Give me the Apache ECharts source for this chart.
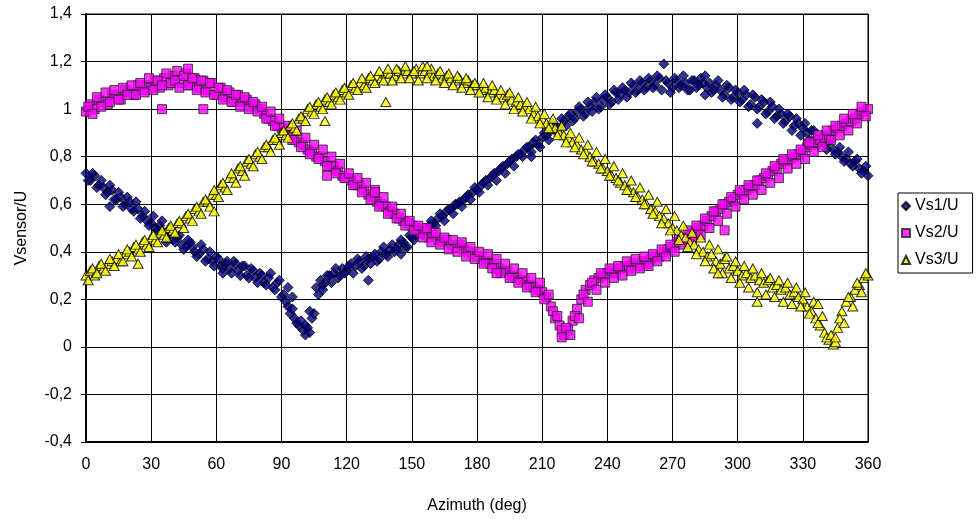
<!DOCTYPE html>
<html><head><meta charset="utf-8">
<script src="https://cdn.jsdelivr.net/npm/echarts@6/dist/echarts.min.js"></script>
<style>html,body{margin:0;padding:0;background:#fff}#c{width:976px;height:519px}</style>
</head><body><div id="c"></div>
<script>
// pass A: even azimuths
var azimuth = [0,2,4,6,8,10,12,14,16,18,20,22,24,26,28,30,32,34,36,38,40,42,44,46,48,50,52,54,56,58,60,62,64,66,68,70,72,74,76,78,80,82,84,86,88,90,92,94,96,98,100,102,104,106,108,110,112,114,116,118,120,122,124,126,128,130,132,134,136,138,140,142,144,146,148,150,152,154,156,158,160,162,164,166,168,170,172,174,176,178,180,182,184,186,188,190,192,194,196,198,200,202,204,206,208,210,212,214,216,218,220,222,224,226,228,230,232,234,236,238,240,242,244,246,248,250,252,254,256,258,260,262,264,266,268,270,272,274,276,278,280,282,284,286,288,290,292,294,296,298,300,302,304,306,308,310,312,314,316,318,320,322,324,326,328,330,332,334,336,338,340,342,344,346,348,350,352,354,356,358,360];
// pass B: odd azimuths
var azimuthB = [1,3,5,7,9,11,13,15,17,19,21,23,25,27,29,31,33,35,37,39,41,43,45,47,49,51,53,55,57,59,61,63,65,67,69,71,73,75,77,79,81,83,85,87,89,91,93,95,97,99,101,103,105,107,109,111,113,115,117,119,121,123,125,127,129,131,133,135,137,139,141,143,145,147,149,151,153,155,157,159,161,163,165,167,169,171,173,175,177,179,181,183,185,187,189,191,193,195,197,199,201,203,205,207,209,211,213,215,217,219,221,223,225,227,229,231,233,235,237,239,241,243,245,247,249,251,253,255,257,259,261,263,265,267,269,271,273,275,277,279,281,283,285,287,289,291,293,295,297,299,301,303,305,307,309,311,313,315,317,319,321,323,325,327,329,331,333,335,337,339,341,343,345,347,349,351,353,355,357,359];

var vs1 = [0.73,0.70,0.72,0.68,0.67,0.65,0.66,0.62,0.63,0.60,
 0.61,0.57,0.58,0.55,0.53,0.52,0.50,0.51,0.48,0.47,
 0.45,0.46,0.43,0.42,0.44,0.40,0.39,0.41,0.37,0.36,
 0.38,0.34,0.35,0.33,0.36,0.32,0.34,0.30,0.33,0.29,
 0.31,0.27,0.29,0.25,0.27,0.21,0.19,0.14,0.12,0.09,
 0.07,0.08,0.12,0.25,0.28,0.27,0.30,0.31,0.29,0.33,
 0.32,0.35,0.34,0.36,0.34,0.37,0.38,0.36,0.40,0.39,
 0.41,0.40,0.43,0.44,0.42,0.46,0.47,0.49,0.48,0.51,
 0.52,0.54,0.55,0.57,0.58,0.60,0.61,0.62,0.64,0.65,
 0.66,0.68,0.70,0.71,0.73,0.74,0.76,0.77,0.79,0.80,
 0.81,0.83,0.84,0.86,0.85,0.88,0.89,0.91,0.93,0.92,
 0.95,0.97,0.95,0.99,1.00,0.98,1.01,1.03,1.00,1.04,
 1.05,1.03,1.07,1.06,1.08,1.07,1.10,1.08,1.11,1.09,
 1.12,1.10,1.13,1.19,1.11,1.09,1.12,1.10,1.11,1.08,
 1.12,1.10,1.11,1.09,1.07,1.10,1.08,1.06,1.09,1.05,
 1.07,1.04,1.06,1.02,1.05,1.01,1.03,0.99,1.01,0.97,
 0.98,0.95,0.97,0.93,0.94,0.92,0.90,0.91,0.88,0.87,
 0.85,0.86,0.83,0.82,0.80,0.79,0.77,0.78,0.75,0.74,
 0.72];
var vs1B = [0.70,0.73,0.67,0.70,0.64,0.68,0.62,0.65,0.59,0.63,
 0.58,0.61,0.54,0.57,0.51,0.55,0.49,0.53,0.46,0.50,
 0.44,0.47,0.41,0.45,0.42,0.38,0.43,0.36,0.40,0.34,
 0.37,0.33,0.36,0.31,0.35,0.30,0.34,0.29,0.32,0.27,
 0.30,0.26,0.31,0.24,0.28,0.22,0.17,0.16,0.10,0.11,
 0.09,0.06,0.14,0.22,0.26,0.30,0.27,0.33,0.30,0.31,
 0.34,0.31,0.37,0.33,0.38,0.35,0.39,0.37,0.42,0.38,
 0.43,0.41,0.45,0.42,0.47,0.45,0.49,0.47,0.50,0.53,
 0.51,0.56,0.53,0.58,0.56,0.60,0.59,0.63,0.62,0.67,
 0.65,0.69,0.68,0.72,0.70,0.75,0.73,0.78,0.76,0.81,
 0.80,0.84,0.82,0.87,0.84,0.90,0.87,0.94,0.90,0.96,
 0.93,0.98,0.96,1.01,0.97,1.03,0.99,1.05,1.01,1.06,
 1.02,1.08,1.04,1.09,1.05,1.11,1.07,1.12,1.08,1.13,
 1.09,1.14,1.08,1.12,1.07,1.13,1.09,1.14,1.08,1.12,
 1.09,1.13,1.06,1.11,1.08,1.12,1.05,1.10,1.04,1.08,
 1.03,1.08,1.01,1.06,1.00,1.04,0.98,1.03,0.96,1.00,
 0.94,0.98,0.91,0.96,0.89,0.94,0.87,0.91,0.85,0.89,
 0.83,0.87,0.81,0.84,0.78,0.82,0.76,0.79,0.73,0.76];

var vs2 = [0.99,1.02,1.00,1.04,1.03,1.02,1.06,1.05,1.04,1.08,
 1.07,1.06,1.10,1.08,1.10,1.09,1.12,1.09,1.13,1.10,
 1.14,1.16,1.11,1.15,1.10,1.13,1.09,1.12,1.08,1.11,
 1.06,1.09,1.05,1.07,1.03,1.06,1.03,1.04,1.01,1.02,
 1.00,0.98,0.96,0.95,0.93,0.92,0.90,0.89,0.87,0.86,
 0.85,0.83,0.82,0.80,0.80,0.78,0.76,0.76,0.74,0.72,
 0.71,0.70,0.68,0.68,0.66,0.64,0.63,0.61,0.60,0.59,
 0.57,0.56,0.54,0.53,0.52,0.51,0.50,0.48,0.49,0.46,
 0.47,0.45,0.44,0.45,0.43,0.42,0.43,0.41,0.40,0.39,
 0.38,0.38,0.36,0.35,0.35,0.33,0.32,0.32,0.30,0.29,
 0.28,0.28,0.26,0.25,0.24,0.23,0.21,0.17,0.12,0.09,
 0.05,0.07,0.11,0.16,0.20,0.24,0.26,0.28,0.29,0.30,
 0.31,0.32,0.31,0.33,0.34,0.33,0.35,0.34,0.36,0.35,
 0.37,0.38,0.38,0.40,0.41,0.42,0.44,0.45,0.46,0.47,
 0.48,0.50,0.51,0.53,0.55,0.57,0.58,0.60,0.61,0.62,
 0.64,0.65,0.66,0.67,0.68,0.70,0.71,0.72,0.74,0.75,
 0.77,0.78,0.79,0.80,0.81,0.82,0.84,0.85,0.86,0.87,
 0.88,0.89,0.91,0.92,0.93,0.94,0.95,0.96,0.98,0.99,
 1.00];
var vs2B = [1.01,0.98,1.05,1.01,1.07,1.03,1.08,1.04,1.09,1.06,
 1.10,1.06,1.11,1.07,1.13,1.08,1.12,1.10,1.15,1.11,
 1.12,1.09,1.14,1.10,1.13,1.08,1.12,1.07,1.11,1.06,
 1.09,1.04,1.08,1.03,1.06,1.01,1.05,1.00,1.03,0.99,
 1.01,0.96,0.99,0.93,0.96,0.90,0.93,0.87,0.91,0.84,
 0.88,0.81,0.85,0.79,0.83,0.76,0.80,0.73,0.77,0.71,
 0.73,0.68,0.71,0.65,0.69,0.62,0.66,0.59,0.63,0.56,
 0.59,0.54,0.56,0.51,0.53,0.49,0.51,0.46,0.50,0.44,
 0.48,0.43,0.46,0.41,0.45,0.40,0.44,0.38,0.42,0.37,
 0.40,0.35,0.39,0.33,0.37,0.31,0.35,0.29,0.33,0.27,
 0.31,0.25,0.29,0.23,0.27,0.20,0.22,0.15,0.13,0.07,
 0.08,0.05,0.13,0.12,0.22,0.19,0.27,0.24,0.31,0.27,
 0.33,0.29,0.34,0.30,0.36,0.32,0.37,0.33,0.38,0.34,
 0.39,0.36,0.41,0.38,0.43,0.40,0.46,0.43,0.49,0.45,
 0.51,0.47,0.54,0.50,0.57,0.53,0.60,0.56,0.63,0.59,
 0.66,0.62,0.68,0.64,0.70,0.66,0.73,0.69,0.76,0.71,
 0.79,0.75,0.81,0.77,0.83,0.79,0.86,0.82,0.89,0.84,
 0.91,0.87,0.93,0.89,0.96,0.91,0.98,0.94,1.01,0.97];

var vs3 = [0.30,0.32,0.30,0.34,0.33,0.35,0.36,0.37,0.36,0.39,
 0.40,0.42,0.41,0.44,0.43,0.46,0.45,0.48,0.47,0.50,
 0.49,0.52,0.52,0.55,0.54,0.58,0.57,0.61,0.61,0.64,
 0.64,0.68,0.67,0.71,0.71,0.75,0.74,0.78,0.77,0.81,
 0.80,0.84,0.84,0.87,0.87,0.90,0.89,0.93,0.92,0.96,
 0.96,1.00,0.99,1.02,1.01,1.04,1.03,1.06,1.05,1.08,
 1.07,1.10,1.09,1.11,1.10,1.13,1.12,1.14,1.13,1.15,
 1.15,1.14,1.16,1.15,1.16,1.15,1.17,1.15,1.16,1.15,
 1.14,1.15,1.13,1.14,1.13,1.12,1.13,1.11,1.12,1.10,
 1.10,1.08,1.09,1.07,1.08,1.06,1.05,1.06,1.04,1.03,
 1.02,1.01,1.00,0.98,0.97,0.96,0.94,0.93,0.92,0.90,
 0.89,0.88,0.86,0.85,0.83,0.82,0.80,0.78,0.77,0.75,
 0.74,0.72,0.71,0.69,0.68,0.66,0.65,0.63,0.62,0.60,
 0.58,0.57,0.55,0.54,0.52,0.50,0.49,0.47,0.46,0.44,
 0.43,0.41,0.40,0.38,0.39,0.36,0.35,0.37,0.33,0.34,
 0.32,0.30,0.31,0.29,0.30,0.28,0.27,0.28,0.25,0.26,
 0.24,0.25,0.22,0.23,0.21,0.20,0.17,0.15,0.12,0.09,
 0.06,0.03,0.01,0.08,0.15,0.19,0.21,0.24,0.26,0.29,
 0.30];
var vs3B = [0.28,0.33,0.31,0.35,0.32,0.37,0.34,0.39,0.36,0.41,
 0.38,0.43,0.40,0.45,0.42,0.47,0.44,0.49,0.46,0.51,
 0.48,0.53,0.50,0.56,0.53,0.59,0.56,0.62,0.59,0.66,
 0.63,0.69,0.66,0.73,0.69,0.76,0.72,0.79,0.76,0.82,
 0.79,0.85,0.82,0.88,0.85,0.91,0.88,0.94,0.91,0.97,
 0.95,1.01,0.98,1.03,1.00,1.05,1.02,1.07,1.04,1.09,
 1.06,1.11,1.08,1.13,1.09,1.14,1.11,1.16,1.12,1.17,
 1.12,1.17,1.13,1.18,1.13,1.16,1.12,1.18,1.13,1.17,
 1.12,1.16,1.11,1.15,1.10,1.14,1.09,1.13,1.08,1.11,
 1.07,1.11,1.05,1.10,1.04,1.08,1.02,1.07,1.00,1.05,
 0.99,1.03,0.96,1.01,0.94,0.98,0.92,0.96,0.89,0.93,
 0.86,0.90,0.84,0.88,0.81,0.85,0.78,0.82,0.75,0.79,
 0.72,0.76,0.70,0.73,0.66,0.70,0.63,0.67,0.60,0.64,
 0.56,0.61,0.52,0.58,0.49,0.55,0.45,0.51,0.42,0.48,
 0.39,0.46,0.36,0.43,0.33,0.41,0.31,0.38,0.29,0.36,
 0.27,0.34,0.25,0.33,0.23,0.31,0.22,0.29,0.21,0.28,
 0.19,0.27,0.18,0.25,0.17,0.23,0.14,0.19,0.10,0.13,
 0.04,0.05,0.02,0.12,0.10,0.21,0.17,0.27,0.23,0.31];

var vs1Extra = [[11,0.59],[37,0.44],[63,0.31],[93,0.25],[95,0.21],[101,0.05],[103,0.15],[109,0.24],[130,0.28],[145,0.39],[205,0.80],[285,1.14],[309,0.94]];
var vs2Extra = [[35,1.00],[47,1.17],[54,1.00],[111,0.72],[133,0.65],[189,0.31],[219,0.04],[294,0.49]];
var vs3Extra = [[24,0.35],[59,0.57],[110,0.95],[138,1.03],[157,1.18],[291,0.31],[309,0.19],[337,0.18],[345,0.04]];

var seriesNames = ['Vs1/U','Vs2/U','Vs3/U'];
var xTicks = {min:0, max:360, interval:30};
var yTicks = {min:-0.4, max:1.4, interval:0.2};

function pairs(valsA, valsB, extra){
  var out = azimuth.map(function(a,i){ return [a, valsA[i]]; });
  out = out.concat(azimuthB.map(function(a,i){ return [a, valsB[i]]; }));
  return out.concat(extra);
}
var FONT = '"Liberation Sans", Arial, sans-serif';
var chart = echarts.init(document.getElementById('c'), null, {renderer:'canvas'});
chart.setOption({
  animation:false,
  backgroundColor:'#fff',
  grid:{left:86, right:108, top:14, bottom:76, show:true, borderColor:'#000', borderWidth:1},
  legend:{
    orient:'vertical', left:898, top:193, itemWidth:8, itemHeight:8, itemGap:11,
    padding:[5,14,5,3], borderColor:'#000', borderWidth:1, borderRadius:0,
    textStyle:{fontFamily:FONT, fontSize:16, color:'#000'},
    data:[{name:seriesNames[0], icon:'diamond'},{name:seriesNames[1], icon:'rect'},{name:seriesNames[2], icon:'triangle'}]
  },
  xAxis:{
    type:'value', min:xTicks.min, max:xTicks.max, interval:xTicks.interval,
    name:'Azimuth (deg)', nameLocation:'middle', nameGap:56,
    nameTextStyle:{fontFamily:FONT, fontSize:16, color:'#000'},
    axisLine:{onZero:false, lineStyle:{color:'#000', width:2}},
    axisTick:{show:false},
    axisLabel:{fontFamily:FONT, fontSize:16, color:'#000', margin:15},
    splitLine:{show:true, lineStyle:{color:'#000', width:1}}
  },
  yAxis:{
    type:'value', min:yTicks.min, max:yTicks.max, interval:yTicks.interval,
    name:'Vsensor/U', nameLocation:'middle', nameGap:56, nameRotate:90,
    nameTextStyle:{fontFamily:FONT, fontSize:16, color:'#000'},
    axisLine:{show:true, onZero:false, lineStyle:{color:'#000', width:2}},
    axisTick:{show:true, inside:false, length:5, lineStyle:{color:'#000'}},
    axisLabel:{fontFamily:FONT, fontSize:16, color:'#000', margin:14,
      formatter:function(v){ return String(+v.toFixed(1)).replace('.', ','); }},
    splitLine:{show:true, lineStyle:{color:'#000', width:1}}
  },
  series:[
    {name:seriesNames[0], type:'scatter', symbol:'diamond', symbolSize:[10,10],
     itemStyle:{color:'#000080', borderColor:'#000', borderWidth:1}, data:pairs(vs1, vs1B, vs1Extra)},
    {name:seriesNames[1], type:'scatter', symbol:'rect', symbolSize:9,
     itemStyle:{color:'#FF00FF', borderColor:'#222', borderWidth:1}, data:pairs(vs2, vs2B, vs2Extra)},
    {name:seriesNames[2], type:'scatter', symbol:'triangle', symbolSize:[10,9],
     itemStyle:{color:'#FFFF00', borderColor:'#000', borderWidth:1}, data:pairs(vs3, vs3B, vs3Extra)}
  ]
});
</script></body></html>
